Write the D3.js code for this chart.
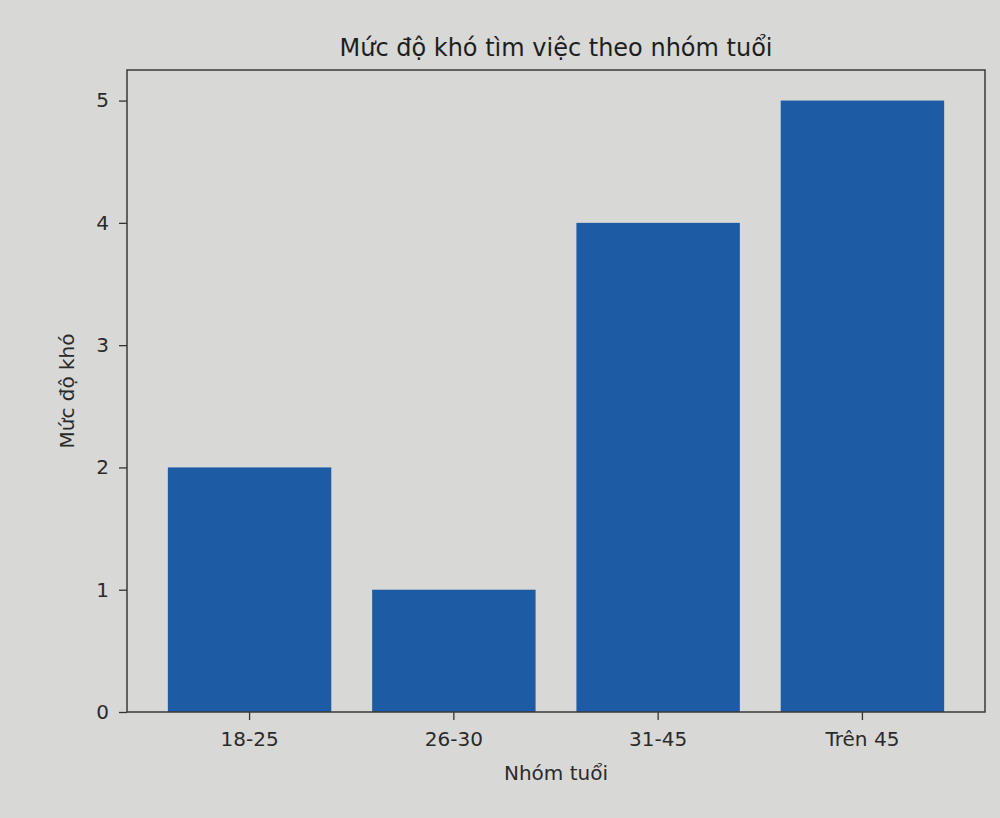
<!DOCTYPE html>
<html><head><meta charset="utf-8">
<script src="https://cdn.jsdelivr.net/npm/d3@7"></script>
<style>
html,body{margin:0;padding:0;background:#d8d8d6;}
svg{display:block;font-family:"DejaVu Sans",sans-serif;}
</style></head>
<body>
<svg id="c" width="1000" height="818"></svg>
<script>
const categories = ["18-25","26-30","31-45","Trên 45"];
const values = [2, 1, 4, 5];
const yTicks = [0,1,2,3,4,5];
const titleText = "Mức độ khó tìm việc theo nhóm tuổi";
const xLabel = "Nhóm tuổi";
const yLabel = "Mức độ khó";

const svg = d3.select("#c");
const L = 127, R = 985, T = 70, B = 712;
const x = d3.scaleBand().domain(categories).range([L, R]).paddingInner(0.2).paddingOuter(0.2);
const y = d3.scaleLinear().domain([0, 5.25]).range([B, T]);

svg.append("rect").attr("x",0).attr("y",0).attr("width",1000).attr("height",818).attr("fill","#d8d8d6");

svg.selectAll("rect.bar").data(values).enter().append("rect")
  .attr("class","bar")
  .attr("x",(d,i)=>x(categories[i]))
  .attr("y",d=>y(d))
  .attr("width",x.bandwidth())
  .attr("height",d=>y(0)-y(d))
  .attr("fill","#1d5ba5");

const xa = svg.append("g").attr("transform",`translate(0,${B})`)
  .call(d3.axisBottom(x).tickSizeOuter(0).tickSize(8).tickPadding(12));
const ya = svg.append("g").attr("transform",`translate(${L},0)`)
  .call(d3.axisLeft(y).tickValues(yTicks).tickFormat(d3.format("d")).tickSizeOuter(0).tickSize(8).tickPadding(10));
[xa,ya].forEach(g=>{
  g.select(".domain").remove();
  g.selectAll("line").attr("stroke","#333").attr("stroke-width",1.3);
  g.selectAll("text").attr("font-size",20).attr("fill","#2a2a2a").attr("font-family","DejaVu Sans");
});

svg.append("rect").attr("x",L).attr("y",T).attr("width",R-L).attr("height",B-T)
  .attr("fill","none").attr("stroke","#3a3a3a").attr("stroke-width",1.5);

svg.append("text").attr("x",(L+R)/2).attr("y",56).attr("text-anchor","middle")
  .attr("font-size",24).attr("fill","#1e1e1e").text(titleText);
svg.append("text").attr("x",(L+R)/2).attr("y",780).attr("text-anchor","middle")
  .attr("font-size",20).attr("fill","#2a2a2a").text(xLabel);
svg.append("text").attr("transform",`translate(74,${(T+B)/2}) rotate(-90)`).attr("text-anchor","middle")
  .attr("font-size",20).attr("fill","#2a2a2a").text(yLabel);
</script>
</body></html>
